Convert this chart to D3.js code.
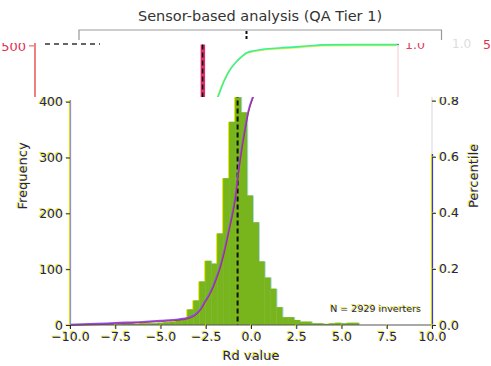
<!DOCTYPE html>
<html>
<head>
<meta charset="utf-8">
<script src="https://cdn.jsdelivr.net/npm/d3@7"></script>
<style>
  body { margin: 0; background: #fff; }
  svg { display: block; font-family: "DejaVu Sans", sans-serif; }
</style>
</head>
<body>
<svg id="chart" width="491" height="366"></svg>
<script>
// histogram of Rd values, one left edge per bin (bin width 0.33)
const binX0 = [-9.79, -9.46, -9.13, -8.80, -8.47, -8.14, -7.81, -7.48, -7.15, -6.82,
  -6.49, -6.16, -5.83, -5.50, -5.17, -4.84, -4.51, -4.18, -3.85,
  -3.52, -3.19, -2.86, -2.53, -2.20, -1.87, -1.54, -1.21, -0.88, -0.55,
  -0.23, 0.10, 0.42, 0.75, 1.07, 1.40, 1.72, 2.05, 2.37, 2.70,
  3.02, 3.35, 3.67, 4.00, 4.32, 4.65, 4.97, 5.30, 5.62];
const binCounts = [1, 1, 2, 1, 2, 2, 2, 1, 2, 3,
  2, 3, 3, 3, 4, 5, 6, 9, 12,
  28, 44, 78, 115, 110, 164, 263, 364, 408, 381,
  232, 184, 114, 85, 65, 32, 14, 14, 9, 6,
  6, 3, 3, 2, 3, 4, 3, 4, 4];
const binW = 0.33;
// cumulative share of inverters (percentile curve)
const cdfRd = [-10, -8.5, -7.5, -6, -5, -4, -3.5, -3.09, -2.8, -2.54, -2.25, -1.99, -1.62,
  -1.2, -0.88, -0.65, -0.33, -0.15, 0.15, 0.45, 0.77, 1.1, 1.42, 1.7, 2.1, 2.6, 3.5,
  4.46, 5.2, 5.91, 7.5, 10];
const cdfPct = [0, 0.003, 0.006, 0.010, 0.014, 0.019, 0.024, 0.036, 0.055, 0.083, 0.115,
  0.154, 0.226, 0.345, 0.45, 0.57, 0.70, 0.76, 0.82, 0.87, 0.91, 0.937, 0.957, 0.971,
  0.978, 0.983, 0.988, 0.992, 0.996, 0.999, 1.0, 1.0];
const medianRd = -0.74;
const xTicks = [-10, -7.5, -5, -2.5, 0, 2.5, 5, 7.5, 10];
const countTicks = [0, 100, 200, 300, 400];
const pctTicks = [0, 0.2, 0.4, 0.6, 0.8];
const nInverters = 2929;

var svg = d3.select("#chart");
const navy = "#22226a", ghost = "#e4e400";

var x = d3.scaleLinear().domain([-10, 10]).range([70, 432]);
var yCount = d3.scaleLinear().domain([0, 400]).range([325, 101.7]);
var yPct = d3.scaleLinear().domain([0, 1]).range([325, 44.6]);

var cdfData = cdfRd.map((v, i) => [v, cdfPct[i]]);
var cdfLine = d3.line().x(d => x(d[0])).y(d => yPct(d[1])).curve(d3.curveMonotoneX);

var defs = svg.append("defs");
defs.append("clipPath").attr("id", "mainClip")
    .append("rect").attr("x", 0).attr("y", 97).attr("width", 491).attr("height", 269);
defs.append("clipPath").attr("id", "stripClip")
    .append("rect").attr("x", 0).attr("y", 43).attr("width", 491).attr("height", 54);

// title + bracket above
svg.append("text").attr("x", 260).attr("y", 21).attr("text-anchor", "middle")
   .attr("font-size", 14.5).attr("fill", "#333").text("Sensor-based analysis (QA Tier 1)");
svg.append("path").attr("d", "M79,40V30H441.5V40").attr("fill", "none")
   .attr("stroke", "#999").attr("stroke-width", 1.2);
svg.append("line").attr("x1", 246.5).attr("x2", 246.5).attr("y1", 31).attr("y2", 40)
   .attr("stroke", "#111").attr("stroke-width", 2).attr("stroke-dasharray", "3,2");

// ---- upper strip: shifted copy of the top of the chart
var strip = svg.append("g").attr("clip-path", "url(#stripClip)")
    .append("g").attr("transform", "translate(-35,0)");
strip.append("line").attr("x1", 70).attr("x2", 70).attr("y1", 43).attr("y2", 97)
     .attr("stroke", "#f08080").attr("stroke-width", 2);
strip.append("line").attr("x1", 433).attr("x2", 433).attr("y1", 43).attr("y2", 97)
     .attr("stroke", "#f4c8d0").attr("stroke-width", 1);
strip.append("line").attr("x1", 64).attr("x2", 69).attr("y1", yCount(500)).attr("y2", yCount(500))
     .attr("stroke", "#e05060");
strip.append("text").attr("x", 61).attr("y", yCount(500) + 5)
     .attr("text-anchor", "end").attr("font-size", 13).attr("fill", "#e03050").text("500");
strip.append("line").attr("x1", 430).attr("x2", 434).attr("y1", yPct(1)).attr("y2", yPct(1))
     .attr("stroke", "#3a8a8a");
strip.append("text").attr("x", 440).attr("y", yPct(1) + 4.5)
     .attr("font-size", 12.5).attr("fill", "#e04060").text("1.0");
strip.append("rect").attr("x", x(medianRd) - 2).attr("width", 4.5)
     .attr("y", yPct(1)).attr("height", 60).attr("fill", "#e0306a");
strip.append("line").attr("x1", x(medianRd)).attr("x2", x(medianRd))
     .attr("y1", yPct(1)).attr("y2", 100)
     .attr("stroke", "#111").attr("stroke-width", 1.6).attr("stroke-dasharray", "5,3");
strip.append("path").datum(cdfData).attr("d", cdfLine).attr("fill", "none")
     .attr("stroke", "#e8f040").attr("stroke-width", 1.6).attr("transform", "translate(-0.8,0.8)");
strip.append("path").datum(cdfData).attr("d", cdfLine).attr("fill", "none")
     .attr("stroke", "#3cf098").attr("stroke-width", 1.6);
svg.append("line").attr("x1", 45).attr("x2", 100).attr("y1", 44).attr("y2", 44)
   .attr("stroke", "#333").attr("stroke-width", 1.6).attr("stroke-dasharray", "5,4");
svg.append("text").attr("x", 452).attr("y", 48).attr("font-size", 12)
   .attr("fill", "#dcdcdc").text("1.0");
svg.append("text").attr("x", 483).attr("y", 49).attr("font-size", 12.5)
   .attr("fill", "#e03050").text("5");

// ---- main panel
var main = svg.append("g").attr("clip-path", "url(#mainClip)");

var bars = [[ghost, -1], ["#a8dcf4", 1], ["#78b41c", 0]];
bars.forEach(function(b) {
  main.append("g").selectAll("rect")
      .data(binCounts)
      .enter().append("rect")
      .attr("x", (c, i) => x(binX0[i]) + b[1])
      .attr("width", (c, i) => x(binX0[i] + binW) - x(binX0[i]) + 0.2)
      .attr("y", c => yCount(c))
      .attr("height", c => yCount(0) - yCount(c))
      .attr("fill", b[0]);
});

main.append("line").attr("x1", x(medianRd)).attr("x2", x(medianRd))
    .attr("y1", yPct(1)).attr("y2", 325)
    .attr("stroke", "#111").attr("stroke-width", 2).attr("stroke-dasharray", "5,3");

main.append("path").datum(cdfData).attr("d", cdfLine).attr("fill", "none")
    .attr("stroke", "#8a4cf0").attr("stroke-width", 1.8).attr("transform", "translate(0,-0.4)");
main.append("path").datum(cdfData).attr("d", cdfLine).attr("fill", "none")
    .attr("stroke", "#b02050").attr("stroke-width", 0.8).attr("transform", "translate(0.3,0.5)");

// spines
main.append("line").attr("x1", 69.5).attr("x2", 69.5).attr("y1", 100).attr("y2", 325)
    .attr("stroke", ghost).attr("stroke-width", 1.2);
main.append("line").attr("x1", 70.5).attr("x2", 70.5).attr("y1", 100).attr("y2", 325)
    .attr("stroke", "#8c8cf0").attr("stroke-width", 1.2);
main.append("line").attr("x1", 432).attr("x2", 432).attr("y1", 97).attr("y2", 154)
    .attr("stroke", "#d8d8e0").attr("stroke-width", 1);
main.append("line").attr("x1", 431.5).attr("x2", 431.5).attr("y1", 154).attr("y2", 325)
    .attr("stroke", ghost).attr("stroke-width", 1.2);
main.append("line").attr("x1", 432.5).attr("x2", 432.5).attr("y1", 154).attr("y2", 325)
    .attr("stroke", "#3a3ad0").attr("stroke-width", 1.2);
main.append("line").attr("x1", 70).attr("x2", 432).attr("y1", 325).attr("y2", 325)
    .attr("stroke", "#555").attr("stroke-width", 1.2);

// axes, drawn twice for the yellow fringe
function drawAxes(color, dx, dy) {
  var g = main.append("g").attr("transform", "translate(" + dx + "," + dy + ")");
  var ax = [
    [d3.axisBottom(x).tickValues(xTicks).tickFormat(d3.format(".1f")), "translate(0,325)"],
    [d3.axisLeft(yCount).tickValues(countTicks), "translate(70,0)"],
    [d3.axisRight(yPct).tickValues(pctTicks).tickFormat(d3.format(".1f")), "translate(432,0)"]
  ];
  ax.forEach(function(a) {
    var s = g.append("g").attr("transform", a[1])
        .call(a[0].tickSize(4).tickPadding(3));
    s.select(".domain").remove();
    s.selectAll("line").attr("stroke", color);
    s.selectAll("text").attr("fill", color).attr("font-size", 12.5)
     .attr("font-family", "DejaVu Sans, sans-serif");
  });
  g.append("text").attr("transform", "translate(27,176) rotate(-90)")
   .attr("text-anchor", "middle").attr("font-size", 13).attr("fill", color).text("Frequency");
  g.append("text").attr("transform", "translate(478,176) rotate(-90)")
   .attr("text-anchor", "middle").attr("font-size", 13).attr("fill", color).text("Percentile");
  g.append("text").attr("x", 251).attr("y", 360)
   .attr("text-anchor", "middle").attr("font-size", 13).attr("fill", color).text("Rd value");
  g.append("text").attr("x", 421).attr("y", 312).attr("text-anchor", "end")
   .attr("font-size", 9.5).attr("fill", color).text("N = " + nInverters + " inverters");
}
drawAxes(ghost, -0.8, -0.6);
drawAxes(navy, 0, 0);
</script>
</body>
</html>
